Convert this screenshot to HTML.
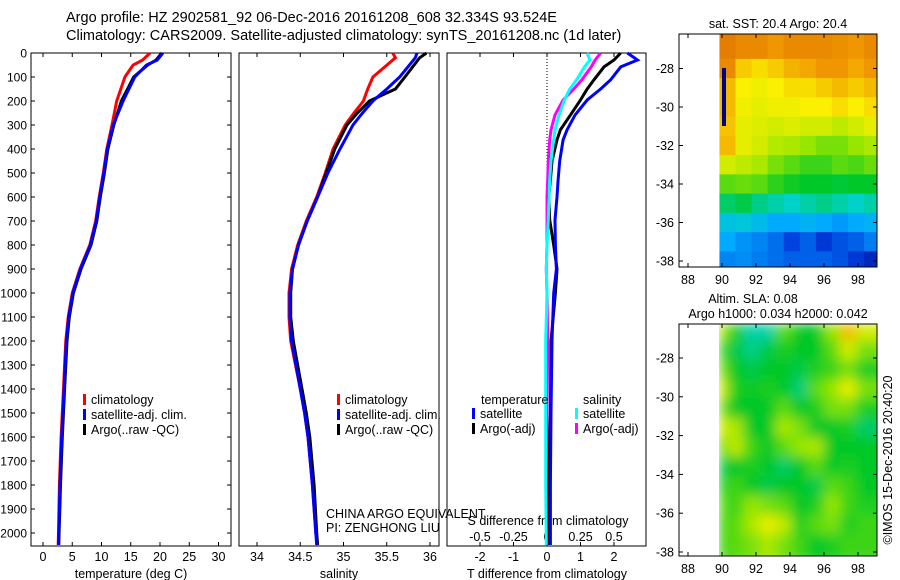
<!DOCTYPE html>
<html><head><meta charset="utf-8"><style>
body{margin:0;background:#fff;}
svg{display:block;font-family:"Liberation Sans",sans-serif;}
</style></head><body>
<svg id="fig" width="900" height="580" viewBox="0 0 900 580">
<defs><filter id="blur" x="0" y="0" width="1" height="1"><feGaussianBlur stdDeviation="6"/></filter>
<clipPath id="clipMap1"><rect x="719" y="34" width="158" height="233"/></clipPath>
<clipPath id="clipMap2"><rect x="719" y="324" width="158" height="232"/></clipPath></defs>
<g font-size="14.5">
<text x="66" y="22">Argo profile: HZ 2902581_92 06-Dec-2016 20161208_608 32.334S 93.524E</text>
<text x="66" y="40">Climatology: CARS2009. Satellite-adjusted climatology: synTS_20161208.nc (1d later)</text>
</g>
<g id="plots"></g>
<text transform="translate(892,460) rotate(-90)" text-anchor="middle" font-size="12.5">©IMOS 15-Dec-2016 20:40:20</text>
</svg>
<script>
// ---- data ----
const tDepth=[0,30,50,100,200,300,400,500,600,700,800,900,1000,1100,1200,1300,1400,1600,1800,2000,2050];
const tClim=[18.3,17,15.4,14,12.6,11.8,10.9,10.3,9.6,9,8,6.3,5,4.3,3.9,3.7,3.5,3.1,2.8,2.65,2.6];
const tSat=[20.5,19.5,17.7,15.7,13.7,12,11,10.4,9.7,9.1,8.1,6.4,5.1,4.4,4,3.8,3.6,3.2,2.9,2.7,2.65];
const tArgo=[20.3,19.3,17.9,15.5,13.4,12.1,11.1,10.5,9.8,9.2,8.2,6.5,5.2,4.5,4.1,3.9,3.7,3.3,3,2.75,2.7];
const sDepth=[0,20,100,150,200,250,300,400,500,600,700,800,900,1000,1100,1200,1400,1500,1600,1800,2000,2050];
const sClim=[35.57,35.6,35.34,35.28,35.23,35.12,35.02,34.88,34.79,34.69,34.57,34.47,34.4,34.37,34.37,34.39,34.5,34.55,34.59,34.64,34.68,34.7];
const sSat=[35.85,35.83,35.65,35.5,35.34,35.22,35.11,34.96,34.82,34.7,34.58,34.48,34.41,34.38,34.38,34.4,34.5,34.55,34.59,34.64,34.68,34.69];
const sArgo=[35.96,35.88,35.71,35.6,35.3,35.16,35.04,34.9,34.8,34.7,34.58,34.48,34.41,34.39,34.39,34.42,34.52,34.57,34.61,34.66,34.69,34.7];
const dDepth=[0,29,58,112,150,196,258,320,362,450,529,600,696,800,900,1000,1200,1500,1800,2050];
const dTSat=[2.4,2.7,2.2,1.9,1.6,1.2,0.84,0.6,0.48,0.38,0.33,0.3,0.24,0.25,0.28,0.2,0.15,0.12,0.1,0.1];
const dTArgo=[2.2,2.0,1.7,1.4,1.2,1.0,0.7,0.4,0.3,0.15,0.1,0.05,0.08,0.2,0.3,0.25,0.12,0.1,0.05,0.05];
const dSSat=[0.3,0.32,0.28,0.22,0.17,0.13,0.09,0.06,0.05,0.03,0.02,0.015,0.01,0.0,-0.005,0.0,-0.01,-0.01,-0.01,-0.005];
const dSArgo=[0.4,0.36,0.33,0.26,0.2,0.12,0.06,0.03,0.02,0.01,0.005,0.0,0.0,0.0,-0.005,0.0,0.005,0.0,0.0,0.005];
const depthTicks=[0,100,200,300,400,500,600,700,800,900,1000,1100,1200,1300,1400,1500,1600,1700,1800,1900,2000];
const tTicks=[0,5,10,15,20,25,30];
const sTicks=[34,34.5,35,35.5,36];
const dTTicks=[-2,-1,0,1,2];
const dSTicks=[-0.5,-0.25,0,0.25,0.5];
const dSTickLabels=["-0.5","-0.25","0","0.25","0.5"];
const lonTicks=[88,90,92,94,96,98];
const latTicks=[-28,-30,-32,-34,-36,-38];
const sstGrid=[
[0.84,0.82,0.82,0.8,0.82,0.82,0.82,0.81,0.8,0.82],
[0.82,0.74,0.72,0.74,0.77,0.78,0.8,0.8,0.78,0.8],
[0.76,0.7,0.69,0.7,0.72,0.72,0.74,0.76,0.74,0.76],
[0.76,0.69,0.68,0.69,0.69,0.7,0.7,0.72,0.7,0.72],
[0.75,0.68,0.67,0.66,0.67,0.66,0.66,0.64,0.66,0.68],
[0.76,0.68,0.66,0.63,0.62,0.6,0.58,0.58,0.6,0.62],
[0.66,0.64,0.62,0.58,0.56,0.54,0.54,0.56,0.55,0.57],
[0.56,0.57,0.56,0.53,0.51,0.5,0.5,0.49,0.5,0.5],
[0.46,0.48,0.44,0.42,0.4,0.42,0.44,0.42,0.4,0.42],
[0.36,0.37,0.34,0.3,0.3,0.32,0.3,0.28,0.3,0.32],
[0.3,0.27,0.25,0.22,0.16,0.2,0.14,0.18,0.2,0.24],
[0.25,0.26,0.24,0.22,0.2,0.2,0.2,0.18,0.14,0.1]];
const slaGrid=[
[0.62,0.52,0.42,0.42,0.56,0.5,0.5,0.6,0.76,0.66],
[0.54,0.48,0.44,0.48,0.52,0.5,0.5,0.56,0.66,0.58],
[0.58,0.5,0.48,0.5,0.5,0.48,0.52,0.54,0.58,0.52],
[0.66,0.52,0.5,0.52,0.5,0.45,0.56,0.6,0.68,0.58],
[0.58,0.5,0.5,0.5,0.56,0.5,0.52,0.58,0.58,0.52],
[0.66,0.62,0.5,0.5,0.62,0.58,0.5,0.5,0.52,0.46],
[0.56,0.64,0.54,0.5,0.56,0.6,0.62,0.5,0.5,0.5],
[0.48,0.5,0.52,0.5,0.46,0.5,0.56,0.5,0.52,0.5],
[0.52,0.54,0.5,0.48,0.5,0.5,0.48,0.56,0.54,0.5],
[0.56,0.54,0.6,0.58,0.56,0.5,0.52,0.6,0.54,0.52],
[0.54,0.56,0.62,0.68,0.64,0.52,0.56,0.58,0.52,0.54],
[0.54,0.56,0.58,0.62,0.58,0.54,0.5,0.52,0.54,0.54]];
const stops=[[0,[0,0,128]],[0.15,[0,60,220]],[0.3,[0,170,255]],[0.4,[0,210,200]],[0.5,[0,200,40]],[0.6,[150,230,0]],[0.7,[250,240,0]],[0.8,[240,150,0]],[0.9,[210,90,0]],[1,[160,40,0]]];
function cmap(v){v=Math.max(0,Math.min(1,v));for(let i=1;i<stops.length;i++){if(v<=stops[i][0]){const a=stops[i-1],b=stops[i];const f=(v-a[0])/(b[0]-a[0]);const c=a[1].map((x,k)=>Math.round(x+(b[1][k]-x)*f));return `rgb(${c})`;}}return 'rgb(160,40,0)';}

const NS='http://www.w3.org/2000/svg';
const root=document.getElementById('plots');
function mk(tag,attrs,parent){const e=document.createElementNS(NS,tag);for(const k in attrs)e.setAttribute(k,attrs[k]);(parent||root).appendChild(e);return e;}
function txt(x,y,s,anchor,size,parent){const e=mk('text',{x:x,y:y,'text-anchor':anchor||'start','font-size':size||12},parent);e.textContent=s;return e;}

const yD=d=>53+d*0.24;
const PT=546;
function panel(name,x0,x1){const g=mk('g',{});
 mk('rect',{x:x0,y:53,width:x1-x0,height:PT-53,fill:'none',stroke:'#000','stroke-width':1},g);return g;}
function line(g,name,xs,ds,sx,color){const p=mk('polyline',{points:xs.map((v,i)=>sx(v).toFixed(1)+','+yD(ds[i]).toFixed(1)).join(' '),fill:'none',stroke:color,'stroke-width':3,'stroke-linejoin':'miter'},g);}
function xticks(g,ticks,labels,sx,ylab){ticks.forEach((t,i)=>{const x=sx(t);mk('line',{x1:x,x2:x,y1:53,y2:57,stroke:'#000'},g);mk('line',{x1:x,x2:x,y1:PT,y2:PT-4,stroke:'#000'},g);txt(x,ylab,labels[i],'middle',12.5,g);});}
function legend(g,x,y,items){items.forEach((it,i)=>{mk('rect',{x:x,y:y+i*15-10,width:3,height:11,fill:it[1]},g);txt(x+8,y+i*15,it[0],'start',12.5,g);});}

const sxT=v=>43+5.85*v;
const p1=panel('temperature-panel',31,231);
depthTicks.forEach(d=>{const y=yD(d);mk('line',{x1:31,x2:35,y1:y,y2:y,stroke:'#000'},p1);mk('line',{x1:231,x2:227,y1:y,y2:y,stroke:'#000'},p1);txt(27,y+4.5,String(d),'end',12,p1);});
xticks(p1,tTicks,tTicks.map(String),sxT,561);
txt(131,578,'temperature (deg C)','middle',12.5,p1);
line(p1,'temp-climatology-line',tClim,tDepth,sxT,'#f00');
line(p1,'temp-argo-line',tArgo,tDepth,sxT,'#000');
line(p1,'temp-satellite-line',tSat,tDepth,sxT,'#00f');
legend(p1,83,404,[['climatology','#f00'],['satellite-adj. clim.','#00f'],['Argo(..raw -QC)','#000']]);

const sxS=v=>257+86.5*(v-34);
const p2=panel('salinity-panel',239,439);
xticks(p2,sTicks,sTicks.map(String),sxS,561);
txt(339,578,'salinity','middle',12.5,p2);
line(p2,'sal-climatology-line',sClim,sDepth,sxS,'#f00');
line(p2,'sal-argo-line',sArgo,sDepth,sxS,'#000');
line(p2,'sal-satellite-line',sSat,sDepth,sxS,'#00f');
legend(p2,337,404,[['climatology','#f00'],['satellite-adj. clim.','#00f'],['Argo(..raw -QC)','#000']]);
txt(326,518,'CHINA ARGO EQUIVALENT','start',12.5,p2);
txt(326,532,'PI: ZENGHONG LIU','start',12.5,p2);

const sxDT=v=>547+33.5*v;
const sxDS=v=>547+134*v;
const p3=panel('difference-panel',447,646);
mk('line',{x1:547,x2:547,y1:53,y2:PT,stroke:'#000','stroke-dasharray':'1,2'},p3);
xticks(p3,dTTicks,dTTicks.map(String),sxDT,561);
dSTicks.forEach((t,i)=>txt(sxDS(t),541,dSTickLabels[i],'middle',12.5,p3));
txt(548,525,'S difference from climatology','middle',12.5,p3);
txt(547,578,'T difference from climatology','middle',12.5,p3);
line(p3,'sal-diff-argo-line',dSArgo,dDepth,sxDS,'#f0f');
line(p3,'temp-diff-argo-line',dTArgo,dDepth,sxDT,'#000');
line(p3,'temp-diff-satellite-line',dTSat,dDepth,sxDT,'#00f');
line(p3,'sal-diff-satellite-line',dSSat,dDepth,sxDS,'#0ff');
txt(481,404,'temperature','start',12.5,p3);
legend(p3,472,418,[['satellite','#00f'],['Argo(-adj)','#000']]);
txt(583,404,'salinity','start',12.5,p3);
legend(p3,575,418,[['satellite','#0ff'],['Argo(-adj)','#f0f']]);

function mapPanel(name,top,bottom,lat28,lat38,grid,blur,clip,titles){
 const g=mk('g',{});
 const sx=v=>688+17*(v-88);const k=(lat38-lat28)/10;const sy=v=>lat28+(-28-v)*k;
 const cg=mk('g',blur?{filter:'url(#blur)','clip-path':clip}:{'clip-path':clip},g);
 const cw=(99.3-89.85)/10;
 grid.forEach((row,r)=>row.forEach((v,c)=>{const la=-27+(-r);const x0=sx(89.85+c*cw),x1=sx(89.85+(c+1)*cw);
   let y0=sy(la+0.5),y1=sy(la-0.5);if(r===0)y0=top;if(r===grid.length-1)y1=bottom;
   const ex=blur?(c===0?0:8):0;
   const rc=mk('rect',{x:x0-ex,y:y0-(blur&&r>0?8:0),width:x1-x0+ex+(c===9&&blur?12:0.6),height:y1-y0+(blur?16:0.6),fill:cmap(v)},cg);
   }));
 mk('rect',{x:679,y:top,width:198,height:bottom-top,fill:'none',stroke:'#000'},g);
 lonTicks.forEach(t=>{const x=sx(t);mk('line',{x1:x,x2:x,y1:top,y2:top+4,stroke:'#000'},g);mk('line',{x1:x,x2:x,y1:bottom,y2:bottom-4,stroke:'#000'},g);txt(x,bottom+17,String(t),'middle',12.5,g);});
 latTicks.forEach(t=>{const y=sy(t);mk('line',{x1:679,x2:683,y1:y,y2:y,stroke:'#000'},g);mk('line',{x1:877,x2:873,y1:y,y2:y,stroke:'#000'},g);txt(674,y+4.5,String(t),'end',12.5,g);});
 titles.forEach((s,i)=>txt(titles.length>1&&i===0?753:778,top-6-(titles.length-1-i)*15,s,'middle',12.5,g));
 return g;}
const m1=mapPanel('sst-map',34,267,68.5,261,sstGrid,false,'url(#clipMap1)',['sat. SST: 20.4  Argo: 20.4']);
mk('rect',{x:722,y:68,width:4,height:58,fill:'#000080'},m1);
const m2=mapPanel('sla-map',324,556,358,552,slaGrid,true,'url(#clipMap2)',['Altim. SLA: 0.08','Argo h1000: 0.034 h2000: 0.042']);
</script>
</body></html>
